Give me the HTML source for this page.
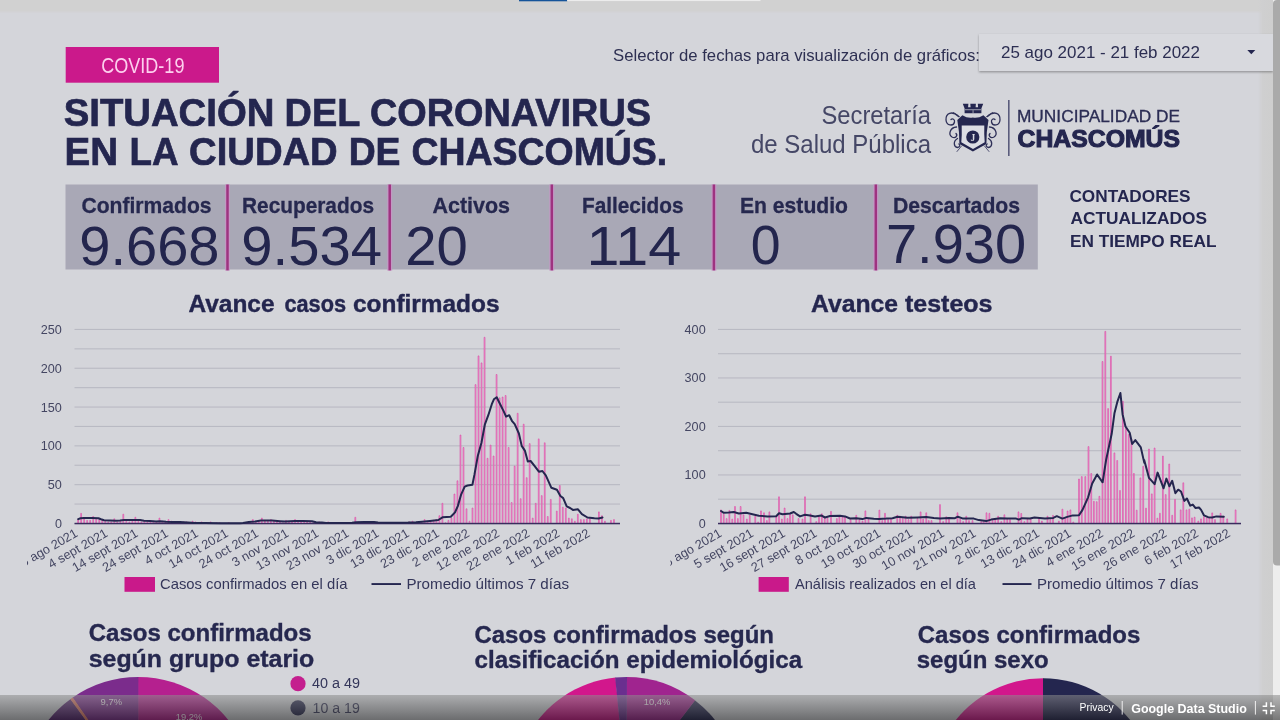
<!DOCTYPE html>
<html lang="es">
<head>
<meta charset="utf-8">
<title>Situación del Coronavirus en la ciudad de Chascomús</title>
<style>
html,body{margin:0;padding:0;width:1280px;height:720px;overflow:hidden;background:#d4d5da;}
body{font-family:"Liberation Sans",sans-serif;}
svg{will-change:transform;transform:translateZ(0);position:absolute;left:0;top:0;display:block;font-family:"Liberation Sans",sans-serif;}
</style>
</head>
<body>
<svg width="1280" height="720" viewBox="0 0 1280 720">
<defs>
<linearGradient id="gstrip" x1="0" x2="1" y1="0" y2="0"><stop offset="0" stop-color="#cfcfd0" stop-opacity="0"/><stop offset="0.3" stop-color="#cfcfd0" stop-opacity="1"/><stop offset="1" stop-color="#cecece"/></linearGradient>
<linearGradient id="gfoot" x1="0" x2="0" y1="0" y2="1"><stop offset="0" stop-color="#8e8e8e" stop-opacity="0.56"/><stop offset="1" stop-color="#1a1a1a" stop-opacity="0.56"/></linearGradient>
<filter id="dsh" x="-5%" y="-20%" width="110%" height="150%"><feDropShadow dx="0" dy="1.2" stdDeviation="1.2" flood-color="#000" flood-opacity="0.32"/></filter>
</defs>
<g id="chrome"><rect x="0" y="0" width="1280" height="11" fill="#d1d1d1"/><rect x="0" y="11" width="1280" height="1.5" fill="#d2d2d4"/>
<rect x="519" y="0" width="48.2" height="1.3" fill="#15549a"/>
<rect x="567.2" y="0" width="193.3" height="1.1" fill="#ececec"/>
<rect x="1258" y="0" width="15" height="720" fill="url(#gstrip)"/></g>
<g id="header"><rect x="65.7" y="47" width="153.3" height="35.7" fill="#cb198b"/>
<text x="101.18" y="73.0" font-size="21.8" fill="#fdd0ee" textLength="83.27" lengthAdjust="spacingAndGlyphs">COVID-19</text>
<text x="63.70" y="126.0" font-size="38.7" font-weight="bold" fill="#24264f" textLength="210.66" lengthAdjust="spacingAndGlyphs" stroke="#24264f" stroke-width="0.7">SITUACIÓN</text>
<text x="284.59" y="126.0" font-size="38.7" font-weight="bold" fill="#24264f" textLength="75.69" lengthAdjust="spacingAndGlyphs" stroke="#24264f" stroke-width="0.7">DEL</text>
<text x="369.99" y="126.0" font-size="38.7" font-weight="bold" fill="#24264f" textLength="281.01" lengthAdjust="spacingAndGlyphs" stroke="#24264f" stroke-width="0.7">CORONAVIRUS</text>
<text x="64.49" y="164.8" font-size="38.7" font-weight="bold" fill="#24264f" textLength="53.61" lengthAdjust="spacingAndGlyphs" stroke="#24264f" stroke-width="0.7">EN</text>
<text x="129.61" y="164.8" font-size="38.7" font-weight="bold" fill="#24264f" textLength="49.01" lengthAdjust="spacingAndGlyphs" stroke="#24264f" stroke-width="0.7">LA</text>
<text x="189.02" y="164.8" font-size="38.7" font-weight="bold" fill="#24264f" textLength="148.74" lengthAdjust="spacingAndGlyphs" stroke="#24264f" stroke-width="0.7">CIUDAD</text>
<text x="348.64" y="164.8" font-size="38.7" font-weight="bold" fill="#24264f" textLength="51.87" lengthAdjust="spacingAndGlyphs" stroke="#24264f" stroke-width="0.7">DE</text>
<text x="411.44" y="164.8" font-size="38.7" font-weight="bold" fill="#24264f" textLength="255.79" lengthAdjust="spacingAndGlyphs" stroke="#24264f" stroke-width="0.7">CHASCOMÚS.</text>
<text x="613.00" y="60.9" font-size="16.6" fill="#2e3052" textLength="367.01" lengthAdjust="spacingAndGlyphs">Selector de fechas para visualización de gráficos:</text>
<rect x="979" y="34" width="294" height="37" fill="#d8d9de" filter="url(#dsh)"/>
<text x="1001.00" y="58.0" font-size="16.6" fill="#2c2e52" textLength="198.98" lengthAdjust="spacingAndGlyphs">25 ago 2021 - 21 feb 2022</text>
<path d="M1247.3 50 L1255.3 50 L1251.3 54.2 Z" fill="#24264f"/></g>
<g id="logo"><text x="821.51" y="123.5" font-size="26.5" fill="#454766" textLength="109.49" lengthAdjust="spacingAndGlyphs">Secretaría</text>
<text x="750.99" y="153.0" font-size="26.5" fill="#454766" textLength="180.01" lengthAdjust="spacingAndGlyphs">de Salud Pública</text>
<rect x="1008" y="100" width="1.6" height="56" fill="#5a5c7c"/>
<text x="1016.98" y="121.6" font-size="16.2" fill="#2b2d54" textLength="163.03" lengthAdjust="spacingAndGlyphs" stroke="#2b2d54" stroke-width="0.3">MUNICIPALIDAD DE</text>
<text x="1017.50" y="146.5" font-size="24.6" font-weight="bold" fill="#24264f" textLength="162.55" lengthAdjust="spacingAndGlyphs" stroke="#24264f" stroke-width="1.1">CHASCOMÚS</text>
<g id="crest">
<g fill="none" stroke="#2e3058" stroke-width="1.3" stroke-linecap="round">
<path d="M958.5 116.5 C952 110 945.5 113.5 946 120 C946.5 126 953.5 126.5 954.5 122 C955 119.5 952.5 118 951 119.5"/>
<path d="M956.5 127 C950 127.5 948 134.5 952 137 C955.5 139 958 135.5 956 133.5"/>
<path d="M957.5 138.5 C953 141 953.5 147 957.5 147.5 C960 147.5 960.5 144.5 958.8 144"/>
<path d="M987.5 116.5 C994 110 1000.5 113.5 1000 120 C999.5 126 992.5 126.5 991.5 122 C991 119.5 993.5 118 995 119.5"/>
<path d="M989.5 127 C996 127.5 998 134.5 994 137 C990.5 139 988 135.5 990 133.5"/>
<path d="M988.5 138.5 C993 141 992.5 147 988.5 147.5 C986 147.5 985.5 144.5 987.2 144"/>
<path d="M953.5 112.5 L960 117 M992.5 112.5 L986 117 M957 151.5 L961.5 146 M989 151.5 L984.5 146" stroke-width="0.8"/>
</g>
<path d="M962.8 103.8 L968.4 103.8 L968.1 107.2 L970.6 107.2 L970.3 103.8 L975.9 103.8 L975.6 107.2 L978.1 107.2 L977.8 103.8 L983.2 103.8 L981.4 108.6 L981.4 113.3 L964.6 113.3 L964.6 108.6 Z" fill="#24264f"/>
<rect x="965" y="109.3" width="16" height="0.9" fill="#d4d5da" opacity="0.75"/>
<rect x="972.6" y="110.2" width="0.9" height="3.1" fill="#d4d5da" opacity="0.75"/>
<path d="M962.4 115.2 Q967.5 118.6 972.9 117.6 Q978.3 118.6 983.4 115.2 L988.5 120 Q986.2 132 986.4 144 L972.9 151.4 L959.4 144 Q959.6 132 957.3 120 Z" fill="#24264f"/>
<path d="M961.7 125.6 L984.3 125.6 Q984 135 984.7 142.3 L973 148.9 L961.3 142.3 Q962 135 961.7 126.8 Z" fill="#dbdce3"/>
<circle cx="972.8" cy="137" r="6.6" fill="#24264f"/>
<text x="972.9" y="140.6" font-size="9.5" font-weight="bold" text-anchor="middle" fill="#dbdce3" font-family="Liberation Serif, serif">J</text>
</g>
</g>
<g id="stats"><rect x="65.5" y="184.5" width="972.3" height="85" fill="#a9a8b6"/>
<rect x="225.0" y="184.5" width="5" height="86.1" fill="#c795c5" opacity="0.85"/><rect x="226.25" y="184.5" width="2.5" height="85.9" fill="#9e3380"/>
<rect x="387.2" y="184.5" width="5" height="86.1" fill="#c795c5" opacity="0.85"/><rect x="388.45" y="184.5" width="2.5" height="85.9" fill="#9e3380"/>
<rect x="549.3" y="184.5" width="5" height="86.1" fill="#c795c5" opacity="0.85"/><rect x="550.55" y="184.5" width="2.5" height="85.9" fill="#9e3380"/>
<rect x="711.4" y="184.5" width="5" height="86.1" fill="#c795c5" opacity="0.85"/><rect x="712.65" y="184.5" width="2.5" height="85.9" fill="#9e3380"/>
<rect x="873.3" y="184.5" width="5" height="86.1" fill="#c795c5" opacity="0.85"/><rect x="874.55" y="184.5" width="2.5" height="85.9" fill="#9e3380"/>
<text x="81.42" y="212.8" font-size="22.6" font-weight="bold" fill="#26284f" textLength="130.10" lengthAdjust="spacingAndGlyphs" stroke="#26284f" stroke-width="0.3">Confirmados</text>
<text x="242.03" y="212.8" font-size="22.6" font-weight="bold" fill="#26284f" textLength="131.99" lengthAdjust="spacingAndGlyphs" stroke="#26284f" stroke-width="0.3">Recuperados</text>
<text x="432.43" y="212.8" font-size="22.6" font-weight="bold" fill="#26284f" textLength="77.59" lengthAdjust="spacingAndGlyphs" stroke="#26284f" stroke-width="0.3">Activos</text>
<text x="581.95" y="212.8" font-size="22.6" font-weight="bold" fill="#26284f" textLength="101.62" lengthAdjust="spacingAndGlyphs" stroke="#26284f" stroke-width="0.3">Fallecidos</text>
<text x="740.01" y="212.8" font-size="22.6" font-weight="bold" fill="#26284f" textLength="108.00" lengthAdjust="spacingAndGlyphs" stroke="#26284f" stroke-width="0.3">En estudio</text>
<text x="892.93" y="212.8" font-size="22.6" font-weight="bold" fill="#26284f" textLength="127.13" lengthAdjust="spacingAndGlyphs" stroke="#26284f" stroke-width="0.3">Descartados</text>
<text x="79.30" y="265.2" font-size="56" fill="#23254d" textLength="140.21" lengthAdjust="spacingAndGlyphs">9.668</text>
<text x="241.35" y="265.0" font-size="56" fill="#23254d" textLength="140.66" lengthAdjust="spacingAndGlyphs">9.534</text>
<text x="405.20" y="265.0" font-size="56" fill="#23254d" textLength="62.61" lengthAdjust="spacingAndGlyphs">20</text>
<text x="586.62" y="265.0" font-size="56" fill="#23254d" textLength="94.57" lengthAdjust="spacingAndGlyphs">114</text>
<text x="750.69" y="263.9" font-size="56" fill="#23254d" textLength="29.86" lengthAdjust="spacingAndGlyphs">0</text>
<text x="885.91" y="262.5" font-size="56" fill="#23254d" textLength="140.20" lengthAdjust="spacingAndGlyphs">7.930</text>
<text x="1069.45" y="201.6" font-size="16.6" font-weight="bold" fill="#24264f" textLength="121.13" lengthAdjust="spacingAndGlyphs">CONTADORES</text>
<text x="1070.48" y="224.4" font-size="16.6" font-weight="bold" fill="#24264f" textLength="136.46" lengthAdjust="spacingAndGlyphs">ACTUALIZADOS</text>
<text x="1069.99" y="247.4" font-size="16.6" font-weight="bold" fill="#24264f" textLength="146.45" lengthAdjust="spacingAndGlyphs">EN TIEMPO REAL</text></g>
<defs><clipPath id="clipL"><rect x="27" y="524" width="640" height="60"/></clipPath><clipPath id="clipR"><rect x="670.4" y="524" width="600" height="60"/></clipPath></defs>
<g id="chartL"><rect x="74.5" y="522.90" width="545.5" height="1.1" fill="#b9bac3"/>
<rect x="74.5" y="503.50" width="545.5" height="1.1" fill="#b9bac3"/>
<rect x="74.5" y="484.10" width="545.5" height="1.1" fill="#b9bac3"/>
<rect x="74.5" y="464.70" width="545.5" height="1.1" fill="#b9bac3"/>
<rect x="74.5" y="445.30" width="545.5" height="1.1" fill="#b9bac3"/>
<rect x="74.5" y="425.90" width="545.5" height="1.1" fill="#b9bac3"/>
<rect x="74.5" y="406.50" width="545.5" height="1.1" fill="#b9bac3"/>
<rect x="74.5" y="387.10" width="545.5" height="1.1" fill="#b9bac3"/>
<rect x="74.5" y="367.70" width="545.5" height="1.1" fill="#b9bac3"/>
<rect x="74.5" y="348.30" width="545.5" height="1.1" fill="#b9bac3"/>
<rect x="74.5" y="328.90" width="545.5" height="1.1" fill="#b9bac3"/>
<path d="M77.68 523.5V519.6H78.52V523.5M80.69 523.5V513.4H81.53V523.5M83.71 523.5V518.8H84.55V523.5M86.72 523.5V520.4H87.56V523.5M89.73 523.5V520.4H90.57V523.5M92.74 523.5V516.5H93.58V523.5M95.76 523.5V518.8H96.60V523.5M98.77 523.5V519.6H99.61V523.5M101.78 523.5V520.4H102.62V523.5M104.80 523.5V521.2H105.64V523.5M107.81 523.5V521.9H108.65V523.5M110.82 523.5V521.9H111.66V523.5M113.84 523.5V518.8H114.68V523.5M116.85 523.5V521.9H117.69V523.5M119.86 523.5V521.2H120.70V523.5M122.87 523.5V514.2H123.71V523.5M125.89 523.5V521.2H126.73V523.5M128.90 523.5V521.9H129.74V523.5M131.91 523.5V521.2H132.75V523.5M134.93 523.5V517.3H135.77V523.5M137.94 523.5V521.2H138.78V523.5M140.95 523.5V521.9H141.79V523.5M143.97 523.5V521.2H144.81V523.5M146.98 523.5V521.9H147.82V523.5M149.99 523.5V521.9H150.83V523.5M153.01 523.5V521.2H153.84V523.5M156.02 523.5V521.9H156.86V523.5M159.03 523.5V518.1H159.87V523.5M162.04 523.5V521.2H162.88V523.5M165.06 523.5V521.9H165.90V523.5M168.07 523.5V519.6H168.91V523.5M171.08 523.5V521.2H171.92V523.5M174.10 523.5V521.9H174.94V523.5M177.11 523.5V522.7H177.95V523.5M180.12 523.5V521.9H180.96V523.5M183.14 523.5V521.9H183.97V523.5M186.15 523.5V521.9H186.99V523.5M189.16 523.5V522.7H190.00V523.5M192.17 523.5V521.2H193.01V523.5M195.19 523.5V521.9H196.03V523.5M198.20 523.5V522.7H199.04V523.5M201.21 523.5V521.9H202.05V523.5M204.23 523.5V522.7H205.07V523.5M207.24 523.5V522.7H208.08V523.5M210.25 523.5V521.9H211.09V523.5M216.28 523.5V522.7H217.12V523.5M219.29 523.5V522.7H220.13V523.5M228.33 523.5V522.7H229.17V523.5M243.40 523.5V522.7H244.23V523.5M246.41 523.5V522.7H247.25V523.5M249.42 523.5V521.9H250.26V523.5M252.43 523.5V519.6H253.27V523.5M255.45 523.5V521.9H256.29V523.5M258.46 523.5V521.2H259.30V523.5M261.47 523.5V518.1H262.31V523.5M264.49 523.5V520.4H265.33V523.5M267.50 523.5V520.4H268.34V523.5M270.51 523.5V519.6H271.35V523.5M273.52 523.5V521.2H274.37V523.5M276.54 523.5V521.9H277.38V523.5M279.55 523.5V521.9H280.39V523.5M282.56 523.5V522.7H283.40V523.5M285.58 523.5V520.4H286.42V523.5M288.59 523.5V521.9H289.43V523.5M291.60 523.5V521.9H292.44V523.5M294.62 523.5V519.6H295.46V523.5M297.63 523.5V521.2H298.47V523.5M300.64 523.5V521.9H301.48V523.5M303.65 523.5V521.2H304.50V523.5M306.67 523.5V521.9H307.51V523.5M309.68 523.5V521.2H310.52V523.5M312.69 523.5V522.7H313.53V523.5M315.71 523.5V522.7H316.55V523.5M318.72 523.5V521.9H319.56V523.5M321.73 523.5V522.7H322.57V523.5M324.75 523.5V522.7H325.59V523.5M327.76 523.5V521.9H328.60V523.5M330.77 523.5V522.7H331.61V523.5M336.80 523.5V522.7H337.64V523.5M339.81 523.5V522.7H340.65V523.5M345.84 523.5V522.7H346.68V523.5M351.86 523.5V522.7H352.70V523.5M354.88 523.5V517.3H355.72V523.5M357.89 523.5V521.9H358.73V523.5M360.90 523.5V521.9H361.74V523.5M363.92 523.5V522.7H364.76V523.5M366.93 523.5V521.9H367.77V523.5M369.94 523.5V521.9H370.78V523.5M372.95 523.5V522.7H373.79V523.5M378.98 523.5V522.7H379.82V523.5M381.99 523.5V522.7H382.83V523.5M385.01 523.5V522.7H385.85V523.5M391.03 523.5V522.7H391.87V523.5M394.05 523.5V522.7H394.89V523.5M397.06 523.5V522.7H397.90V523.5M403.08 523.5V522.7H403.92V523.5M406.10 523.5V522.7H406.94V523.5M409.11 523.5V521.9H409.95V523.5M412.12 523.5V521.2H412.96V523.5M415.14 523.5V522.7H415.98V523.5M418.15 523.5V521.9H418.99V523.5M421.16 523.5V521.9H422.00V523.5M424.18 523.5V519.6H425.02V523.5M427.19 523.5V521.2H428.03V523.5M430.20 523.5V521.2H431.04V523.5M433.21 523.5V520.4H434.05V523.5M435.97 523.5V519.6H436.81V523.5M438.98 523.5V515.7H439.82V523.5M441.99 523.5V503.3H442.83V523.5M445.00 523.5V522.7H445.84V523.5M448.01 523.5V520.4H448.85V523.5M451.02 523.5V518.1H451.86V523.5M454.03 523.5V494.0H454.87V523.5M457.04 523.5V480.8H457.88V523.5M460.05 523.5V435.0H460.89V523.5M463.06 523.5V447.5H463.90V523.5M466.07 523.5V508.8H466.91V523.5M469.08 523.5V521.2H469.92V523.5M472.09 523.5V508.0H472.93V523.5M475.10 523.5V384.6H475.94V523.5M478.11 523.5V355.9H478.95V523.5M481.12 523.5V362.9H481.96V523.5M484.13 523.5V337.3H484.97V523.5M487.14 523.5V458.3H487.98V523.5M490.15 523.5V445.1H490.99V523.5M493.16 523.5V456.0H494.00V523.5M496.17 523.5V374.5H497.01V523.5M499.18 523.5V397.8H500.02V523.5M502.19 523.5V397.0H503.03V523.5M505.20 523.5V395.5H506.04V523.5M508.21 523.5V447.5H509.05V523.5M511.22 523.5V502.5H512.06V523.5M514.23 523.5V466.1H515.07V523.5M517.24 523.5V413.3H518.08V523.5M520.25 523.5V498.7H521.09V523.5M523.26 523.5V424.2H524.10V523.5M526.27 523.5V477.7H527.11V523.5M529.28 523.5V443.6H530.12V523.5M532.29 523.5V518.1H533.13V523.5M535.30 523.5V503.3H536.14V523.5M538.31 523.5V438.9H539.15V523.5M541.32 523.5V495.6H542.16V523.5M544.33 523.5V442.8H545.17V523.5M547.34 523.5V516.5H548.18V523.5M550.35 523.5V499.4H551.19V523.5M556.37 523.5V511.1H557.21V523.5M559.38 523.5V485.5H560.22V523.5M562.39 523.5V507.2H563.23V523.5M565.40 523.5V508.0H566.24V523.5M568.41 523.5V518.1H569.25V523.5M571.42 523.5V518.8H572.26V523.5M574.43 523.5V521.2H575.27V523.5M577.44 523.5V514.2H578.28V523.5M580.45 523.5V519.6H581.29V523.5M583.46 523.5V519.6H584.30V523.5M586.47 523.5V518.8H587.31V523.5M589.48 523.5V518.8H590.32V523.5M598.51 523.5V511.9H599.35V523.5M601.52 523.5V515.7H602.36V523.5M604.53 523.5V521.2H605.37V523.5M610.55 523.5V520.4H611.39V523.5M613.56 523.5V519.6H614.40V523.5" fill="#f7b2de" stroke="#d8409f" stroke-width="0.6"/>
<rect x="74.5" y="522.80" width="545.5" height="1.5" fill="#3a2c5e"/>
<polyline points="78.2,519.1 80.5,518.3 84.0,518.1 92.0,518.1 98.5,518.2 101.0,519.2 104.0,520.2 110.0,520.4 116.0,520.7 120.0,520.5 124.0,520.0 131.0,519.9 140.0,520.1 144.0,520.8 150.0,521.0 156.0,521.4 160.0,521.2 166.0,521.8 172.0,522.1 180.0,522.0 188.0,522.4 195.0,522.9 205.0,523.1 220.0,523.2 240.0,523.2 243.0,523.1 248.8,521.9 255.0,521.5 261.0,520.6 272.0,520.5 280.0,521.2 285.0,521.6 290.0,521.3 295.0,520.9 303.0,521.1 312.0,521.2 316.0,522.3 322.0,522.6 326.0,522.9 335.0,523.0 345.0,523.0 352.0,522.7 356.0,522.2 364.0,522.0 374.0,522.1 378.0,522.6 388.0,522.7 398.0,522.7 408.0,522.6 416.0,522.3 422.0,521.8 430.0,521.0 438.3,520.0 442.5,517.3 450.8,516.8 455.0,512.4 457.8,506.1 461.2,494.3 464.7,486.7 467.5,485.5 472.4,484.7 474.4,474.9 477.9,455.4 481.4,443.0 484.9,424.3 488.3,415.2 491.8,404.2 493.9,399.3 496.7,397.2 499.4,402.8 503.6,411.1 506.1,416.6 509.2,415.2 511.9,420.8 514.7,424.2 518.9,433.5 521.7,445.9 525.0,450.9 527.8,461.4 530.6,461.0 534.7,466.1 538.9,471.7 542.4,471.0 545.8,475.4 551.4,487.8 556.9,489.7 560.4,496.0 563.2,498.1 566.7,506.4 570.1,508.0 572.9,509.9 577.8,509.2 581.9,514.2 587.5,517.5 594.4,518.2 598.6,518.5 602.5,517.5" fill="none" stroke="#24264f" stroke-width="2" stroke-linejoin="round" stroke-linecap="round"/>
<text x="61.9" y="333.9" font-size="12.4" text-anchor="end" fill="#444662" textLength="21.1" lengthAdjust="spacingAndGlyphs">250</text>
<text x="61.9" y="372.7" font-size="12.4" text-anchor="end" fill="#444662" textLength="21.1" lengthAdjust="spacingAndGlyphs">200</text>
<text x="61.9" y="411.5" font-size="12.4" text-anchor="end" fill="#444662" textLength="21.1" lengthAdjust="spacingAndGlyphs">150</text>
<text x="61.9" y="450.3" font-size="12.4" text-anchor="end" fill="#444662" textLength="21.1" lengthAdjust="spacingAndGlyphs">100</text>
<text x="61.9" y="489.1" font-size="12.4" text-anchor="end" fill="#444662" textLength="14.1" lengthAdjust="spacingAndGlyphs">50</text>
<text x="61.9" y="527.9" font-size="12.4" text-anchor="end" fill="#444662" textLength="7.0" lengthAdjust="spacingAndGlyphs">0</text>
<g clip-path="url(#clipL)"><text transform="translate(78.6 535.6) rotate(-30)" text-anchor="end" font-size="12.7" fill="#444662">25 ago 2021</text><text transform="translate(108.7 535.6) rotate(-30)" text-anchor="end" font-size="12.7" fill="#444662">4 sept 2021</text><text transform="translate(138.9 535.6) rotate(-30)" text-anchor="end" font-size="12.7" fill="#444662">14 sept 2021</text><text transform="translate(169.0 535.6) rotate(-30)" text-anchor="end" font-size="12.7" fill="#444662">24 sept 2021</text><text transform="translate(199.1 535.6) rotate(-30)" text-anchor="end" font-size="12.7" fill="#444662">4 oct 2021</text><text transform="translate(229.2 535.6) rotate(-30)" text-anchor="end" font-size="12.7" fill="#444662">14 oct 2021</text><text transform="translate(259.4 535.6) rotate(-30)" text-anchor="end" font-size="12.7" fill="#444662">24 oct 2021</text><text transform="translate(289.5 535.6) rotate(-30)" text-anchor="end" font-size="12.7" fill="#444662">3 nov 2021</text><text transform="translate(319.6 535.6) rotate(-30)" text-anchor="end" font-size="12.7" fill="#444662">13 nov 2021</text><text transform="translate(349.8 535.6) rotate(-30)" text-anchor="end" font-size="12.7" fill="#444662">23 nov 2021</text><text transform="translate(379.9 535.6) rotate(-30)" text-anchor="end" font-size="12.7" fill="#444662">3 dic 2021</text><text transform="translate(410.0 535.6) rotate(-30)" text-anchor="end" font-size="12.7" fill="#444662">13 dic 2021</text><text transform="translate(440.2 535.6) rotate(-30)" text-anchor="end" font-size="12.7" fill="#444662">23 dic 2021</text><text transform="translate(470.3 535.6) rotate(-30)" text-anchor="end" font-size="12.7" fill="#444662">2 ene 2022</text><text transform="translate(500.4 535.6) rotate(-30)" text-anchor="end" font-size="12.7" fill="#444662">12 ene 2022</text><text transform="translate(530.5 535.6) rotate(-30)" text-anchor="end" font-size="12.7" fill="#444662">22 ene 2022</text><text transform="translate(560.7 535.6) rotate(-30)" text-anchor="end" font-size="12.7" fill="#444662">1 feb 2022</text><text transform="translate(590.8 535.6) rotate(-30)" text-anchor="end" font-size="12.7" fill="#444662">11 feb 2022</text></g>
<text x="188.49" y="312.0" font-size="24.8" font-weight="bold" fill="#24264f" textLength="86.02" lengthAdjust="spacingAndGlyphs" stroke="#24264f" stroke-width="0.4">Avance</text><text x="284.47" y="312.0" font-size="24.8" font-weight="bold" fill="#24264f" textLength="61.57" lengthAdjust="spacingAndGlyphs" stroke="#24264f" stroke-width="0.4">casos</text><text x="352.99" y="312.0" font-size="24.8" font-weight="bold" fill="#24264f" textLength="146.53" lengthAdjust="spacingAndGlyphs" stroke="#24264f" stroke-width="0.4">confirmados</text>
<rect x="124.5" y="577" width="30.5" height="14.8" fill="#c9198a"/><text x="160.00" y="589.4" font-size="14.8" fill="#34365a" textLength="187.51" lengthAdjust="spacingAndGlyphs">Casos confirmados en el día</text><rect x="371.5" y="583.1" width="29.5" height="1.9" fill="#24264f"/><text x="406.46" y="589.4" font-size="14.8" fill="#34365a" textLength="162.54" lengthAdjust="spacingAndGlyphs">Promedio últimos 7 días</text></g>
<g id="chartR"><rect x="718" y="522.90" width="523" height="1.1" fill="#b9bac3"/>
<rect x="718" y="498.65" width="523" height="1.1" fill="#b9bac3"/>
<rect x="718" y="474.40" width="523" height="1.1" fill="#b9bac3"/>
<rect x="718" y="450.15" width="523" height="1.1" fill="#b9bac3"/>
<rect x="718" y="425.90" width="523" height="1.1" fill="#b9bac3"/>
<rect x="718" y="401.65" width="523" height="1.1" fill="#b9bac3"/>
<rect x="718" y="377.40" width="523" height="1.1" fill="#b9bac3"/>
<rect x="718" y="353.15" width="523" height="1.1" fill="#b9bac3"/>
<rect x="718" y="328.90" width="523" height="1.1" fill="#b9bac3"/>
<path d="M720.58 523.5V509.9H721.42V523.5M723.33 523.5V514.3H724.17V523.5M726.21 523.5V518.6H727.04V523.5M728.96 523.5V510.4H729.79V523.5M731.83 523.5V519.1H732.67V523.5M734.58 523.5V506.5H735.42V523.5M737.46 523.5V518.6H738.29V523.5M740.21 523.5V506.5H741.04V523.5M743.08 523.5V514.8H743.92V523.5M746.46 523.5V519.1H747.29V523.5M749.33 523.5V515.3H750.17V523.5M754.83 523.5V516.2H755.67V523.5M757.71 523.5V522.0H758.54V523.5M760.58 523.5V510.9H761.42V523.5M763.58 523.5V512.8H764.42V523.5M766.46 523.5V520.6H767.29V523.5M768.96 523.5V511.9H769.79V523.5M775.83 523.5V516.7H776.67V523.5M778.58 523.5V496.8H779.42V523.5M781.46 523.5V519.1H782.29V523.5M784.21 523.5V508.0H785.04V523.5M787.08 523.5V518.6H787.92V523.5M789.58 523.5V514.3H790.42V523.5M792.33 523.5V514.8H793.17V523.5M798.08 523.5V518.6H798.92V523.5M802.08 523.5V519.1H802.92V523.5M804.58 523.5V496.8H805.42V523.5M810.21 523.5V513.8H811.04V523.5M815.83 523.5V521.6H816.67V523.5M818.58 523.5V516.7H819.42V523.5M821.46 523.5V513.8H822.29V523.5M824.33 523.5V518.2H825.17V523.5M827.08 523.5V518.2H827.92V523.5M830.58 523.5V511.4H831.42V523.5M836.46 523.5V518.6H837.29V523.5M838.96 523.5V516.7H839.79V523.5M842.08 523.5V516.7H842.92V523.5M844.58 523.5V517.2H845.42V523.5M850.21 523.5V519.6H851.04V523.5M855.83 523.5V515.3H856.67V523.5M858.96 523.5V519.6H859.79V523.5M862.08 523.5V521.1H862.92V523.5M864.96 523.5V510.9H865.79V523.5M868.08 523.5V519.1H868.92V523.5M878.96 523.5V510.1H879.79V523.5M881.83 523.5V520.6H882.67V523.5M884.58 523.5V513.3H885.42V523.5M887.71 523.5V519.6H888.54V523.5M890.58 523.5V519.1H891.42V523.5M896.83 523.5V515.3H897.67V523.5M899.58 523.5V516.2H900.42V523.5M902.33 523.5V518.6H903.17V523.5M905.21 523.5V516.2H906.04V523.5M908.08 523.5V519.6H908.92V523.5M910.83 523.5V516.2H911.67V523.5M917.08 523.5V518.6H917.92V523.5M920.21 523.5V511.9H921.04V523.5M922.71 523.5V519.1H923.54V523.5M925.83 523.5V512.8H926.67V523.5M928.33 523.5V520.6H929.17V523.5M931.08 523.5V520.6H931.92V523.5M939.58 523.5V504.6H940.42V523.5M942.71 523.5V521.6H943.54V523.5M945.83 523.5V516.7H946.67V523.5M948.58 523.5V517.7H949.42V523.5M957.08 523.5V512.8H957.92V523.5M959.83 523.5V519.1H960.67V523.5M962.71 523.5V521.6H963.54V523.5M965.83 523.5V516.2H966.67V523.5M968.58 523.5V520.6H969.42V523.5M972.08 523.5V520.6H972.92V523.5M980.83 523.5V521.6H981.67V523.5M983.33 523.5V521.6H984.17V523.5M986.08 523.5V512.8H986.92V523.5M988.96 523.5V513.3H989.79V523.5M992.08 523.5V520.6H992.92V523.5M994.83 523.5V519.1H995.67V523.5M997.71 523.5V516.2H998.54V523.5M1000.83 523.5V521.6H1001.67V523.5M1003.96 523.5V514.8H1004.79V523.5M1006.83 523.5V519.1H1007.67V523.5M1009.58 523.5V519.6H1010.42V523.5M1018.08 523.5V511.9H1018.92V523.5M1020.83 523.5V513.5H1021.67V523.5M1023.96 523.5V521.6H1024.80V523.5M1027.08 523.5V519.1H1027.92V523.5M1030.20 523.5V518.6H1031.05V523.5M1038.58 523.5V517.7H1039.42V523.5M1041.48 523.5V521.1H1042.32V523.5M1047.08 523.5V516.2H1047.92V523.5M1049.88 523.5V519.6H1050.72V523.5M1052.58 523.5V515.4H1053.42V523.5M1058.48 523.5V521.1H1059.32V523.5M1061.98 523.5V509.2H1062.82V523.5M1064.78 523.5V518.2H1065.62V523.5M1067.18 523.5V511.0H1068.02V523.5M1069.98 523.5V509.9H1070.82V523.5M1072.88 523.5V522.0H1073.72V523.5M1078.58 523.5V479.0H1079.42V523.5M1081.38 523.5V476.6H1082.22V523.5M1084.88 523.5V476.6H1085.72V523.5M1088.08 523.5V446.6H1088.92V523.5M1090.83 523.5V473.5H1091.67V523.5M1093.48 523.5V501.3H1094.32V523.5M1096.28 523.5V501.7H1097.12V523.5M1098.98 523.5V496.3H1099.82V523.5M1102.08 523.5V361.5H1102.92V523.5M1104.88 523.5V331.4H1105.72V523.5M1107.68 523.5V408.6H1108.52V523.5M1110.48 523.5V356.2H1111.32V523.5M1113.98 523.5V452.9H1114.82V523.5M1116.78 523.5V460.5H1117.62V523.5M1119.58 523.5V490.5H1120.42V523.5M1122.48 523.5V401.3H1123.32V523.5M1125.48 523.5V428.4H1126.32V523.5M1128.33 523.5V434.3H1129.17V523.5M1130.98 523.5V439.1H1131.82V523.5M1133.48 523.5V473.5H1134.32V523.5M1136.28 523.5V510.2H1137.12V523.5M1139.98 523.5V477.9H1140.82V523.5M1142.78 523.5V466.3H1143.62V523.5M1145.58 523.5V508.2H1146.42V523.5M1148.58 523.5V449.0H1149.42V523.5M1151.38 523.5V493.9H1152.22V523.5M1154.18 523.5V448.0H1155.02V523.5M1156.98 523.5V518.2H1157.82V523.5M1159.48 523.5V513.3H1160.32V523.5M1162.48 523.5V456.1H1163.32V523.5M1165.28 523.5V494.6H1166.12V523.5M1168.78 523.5V464.0H1169.62V523.5M1171.78 523.5V515.3H1172.62V523.5M1174.58 523.5V499.4H1175.42V523.5M1180.28 523.5V509.9H1181.12V523.5M1182.88 523.5V482.8H1183.72V523.5M1186.08 523.5V509.9H1186.92V523.5M1188.88 523.5V509.2H1189.72V523.5M1191.58 523.5V517.9H1192.42V523.5M1194.18 523.5V517.2H1195.02V523.5M1197.88 523.5V521.1H1198.72V523.5M1200.58 523.5V518.9H1201.42V523.5M1203.48 523.5V516.8H1204.32V523.5M1206.28 523.5V517.9H1207.12V523.5M1208.98 523.5V517.9H1209.82V523.5M1211.78 523.5V512.9H1212.62V523.5M1214.58 523.5V519.6H1215.42V523.5M1220.18 523.5V513.3H1221.02V523.5M1222.88 523.5V516.2H1223.72V523.5M1226.78 523.5V518.9H1227.62V523.5M1235.18 523.5V509.9H1236.02V523.5" fill="#f7b2de" stroke="#d8409f" stroke-width="0.6"/>
<rect x="718" y="522.80" width="523" height="1.5" fill="#3a2c5e"/>
<polyline points="721.0,511.0 723.8,512.8 728.8,512.6 733.8,512.0 738.8,513.5 746.2,512.8 752.5,514.3 758.8,515.7 767.5,516.4 776.2,516.2 779.0,513.3 782.5,514.3 790.0,513.5 793.8,512.0 796.2,513.8 800.0,516.4 805.0,514.8 810.0,515.4 815.0,516.4 821.2,515.4 825.0,517.5 830.0,516.0 840.0,515.7 845.0,516.4 850.0,518.5 856.2,518.2 862.5,519.1 866.2,517.9 873.8,518.7 878.8,518.9 886.2,518.6 892.5,518.2 897.5,516.7 907.5,517.7 917.5,517.4 926.2,517.0 933.8,517.9 940.0,518.4 948.8,517.9 955.0,518.2 957.8,516.7 962.5,518.4 973.8,518.6 978.8,520.1 986.2,521.1 991.2,519.6 1000.0,518.2 1007.5,518.4 1016.2,518.6 1018.8,519.6 1021.9,518.2 1030.0,518.4 1034.4,517.4 1045.0,518.6 1053.3,517.9 1056.8,516.2 1062.4,518.6 1067.2,516.9 1072.8,515.4 1079.0,515.3 1082.5,509.9 1088.1,497.3 1092.2,483.5 1097.1,474.5 1102.6,482.3 1106.1,460.0 1111.7,433.8 1114.5,412.9 1117.5,401.3 1120.4,393.0 1122.6,414.4 1125.5,426.5 1129.7,432.8 1132.2,444.0 1135.3,440.1 1140.8,447.4 1144.3,462.9 1144.2,460.0 1149.0,477.9 1154.6,484.2 1157.6,472.6 1163.6,488.3 1166.4,478.6 1169.4,486.3 1172.2,480.8 1175.4,493.2 1178.2,489.7 1181.0,491.5 1184.4,500.9 1186.9,498.5 1190.3,505.7 1192.8,504.6 1195.6,508.1 1199.0,507.5 1201.1,509.9 1203.9,515.3 1208.1,517.2 1212.2,517.5 1216.4,516.4 1223.8,516.8" fill="none" stroke="#24264f" stroke-width="2" stroke-linejoin="round" stroke-linecap="round"/>
<text x="705.7" y="333.9" font-size="12.4" text-anchor="end" fill="#444662" textLength="21.1" lengthAdjust="spacingAndGlyphs">400</text>
<text x="705.7" y="382.4" font-size="12.4" text-anchor="end" fill="#444662" textLength="21.1" lengthAdjust="spacingAndGlyphs">300</text>
<text x="705.7" y="430.9" font-size="12.4" text-anchor="end" fill="#444662" textLength="21.1" lengthAdjust="spacingAndGlyphs">200</text>
<text x="705.7" y="479.4" font-size="12.4" text-anchor="end" fill="#444662" textLength="21.1" lengthAdjust="spacingAndGlyphs">100</text>
<text x="705.7" y="527.9" font-size="12.4" text-anchor="end" fill="#444662" textLength="7.0" lengthAdjust="spacingAndGlyphs">0</text>
<g clip-path="url(#clipR)"><text transform="translate(722.6 535.6) rotate(-30)" text-anchor="end" font-size="12.7" fill="#444662">25 ago 2021</text><text transform="translate(754.4 535.6) rotate(-30)" text-anchor="end" font-size="12.7" fill="#444662">5 sept 2021</text><text transform="translate(786.2 535.6) rotate(-30)" text-anchor="end" font-size="12.7" fill="#444662">16 sept 2021</text><text transform="translate(817.9 535.6) rotate(-30)" text-anchor="end" font-size="12.7" fill="#444662">27 sept 2021</text><text transform="translate(849.7 535.6) rotate(-30)" text-anchor="end" font-size="12.7" fill="#444662">8 oct 2021</text><text transform="translate(881.5 535.6) rotate(-30)" text-anchor="end" font-size="12.7" fill="#444662">19 oct 2021</text><text transform="translate(913.3 535.6) rotate(-30)" text-anchor="end" font-size="12.7" fill="#444662">30 oct 2021</text><text transform="translate(945.1 535.6) rotate(-30)" text-anchor="end" font-size="12.7" fill="#444662">10 nov 2021</text><text transform="translate(976.8 535.6) rotate(-30)" text-anchor="end" font-size="12.7" fill="#444662">21 nov 2021</text><text transform="translate(1008.6 535.6) rotate(-30)" text-anchor="end" font-size="12.7" fill="#444662">2 dic 2021</text><text transform="translate(1040.4 535.6) rotate(-30)" text-anchor="end" font-size="12.7" fill="#444662">13 dic 2021</text><text transform="translate(1072.2 535.6) rotate(-30)" text-anchor="end" font-size="12.7" fill="#444662">24 dic 2021</text><text transform="translate(1104.0 535.6) rotate(-30)" text-anchor="end" font-size="12.7" fill="#444662">4 ene 2022</text><text transform="translate(1135.7 535.6) rotate(-30)" text-anchor="end" font-size="12.7" fill="#444662">15 ene 2022</text><text transform="translate(1167.5 535.6) rotate(-30)" text-anchor="end" font-size="12.7" fill="#444662">26 ene 2022</text><text transform="translate(1199.3 535.6) rotate(-30)" text-anchor="end" font-size="12.7" fill="#444662">6 feb 2022</text><text transform="translate(1231.1 535.6) rotate(-30)" text-anchor="end" font-size="12.7" fill="#444662">17 feb 2022</text></g>
<text x="810.99" y="312.0" font-size="24.8" font-weight="bold" fill="#24264f" textLength="87.03" lengthAdjust="spacingAndGlyphs" stroke="#24264f" stroke-width="0.4">Avance</text><text x="905.00" y="312.0" font-size="24.8" font-weight="bold" fill="#24264f" textLength="87.51" lengthAdjust="spacingAndGlyphs" stroke="#24264f" stroke-width="0.4">testeos</text>
<rect x="758.6" y="577" width="30.2" height="14.8" fill="#c9198a"/><text x="795.00" y="589.4" font-size="14.8" fill="#34365a" textLength="181.00" lengthAdjust="spacingAndGlyphs">Análisis realizados en el día</text><rect x="1002.5" y="583.1" width="29" height="1.9" fill="#24264f"/><text x="1036.99" y="589.4" font-size="14.8" fill="#34365a" textLength="161.50" lengthAdjust="spacingAndGlyphs">Promedio últimos 7 días</text></g>
<g id="pies"><text x="88.69" y="641.4" font-size="24.2" font-weight="bold" fill="#26284f" textLength="222.93" lengthAdjust="spacingAndGlyphs" stroke="#26284f" stroke-width="0.35">Casos confirmados</text>
<text x="88.69" y="666.5" font-size="24.2" font-weight="bold" fill="#26284f" textLength="225.51" lengthAdjust="spacingAndGlyphs" stroke="#26284f" stroke-width="0.35">según grupo etario</text>
<text x="474.49" y="643.4" font-size="24.2" font-weight="bold" fill="#26284f" textLength="299.52" lengthAdjust="spacingAndGlyphs" stroke="#26284f" stroke-width="0.35">Casos confirmados según</text>
<text x="474.50" y="668.4" font-size="24.2" font-weight="bold" fill="#26284f" textLength="327.70" lengthAdjust="spacingAndGlyphs" stroke="#26284f" stroke-width="0.35">clasificación epidemiológica</text>
<text x="917.78" y="643.1" font-size="24.2" font-weight="bold" fill="#26284f" textLength="222.56" lengthAdjust="spacingAndGlyphs" stroke="#26284f" stroke-width="0.35">Casos confirmados</text>
<text x="916.78" y="668.3" font-size="24.2" font-weight="bold" fill="#26284f" textLength="131.87" lengthAdjust="spacingAndGlyphs" stroke="#26284f" stroke-width="0.35">según sexo</text>
<path d="M138.4 792.5L246.08 750.73A115.5 115.5 0 0 1 212.64 880.98Z" fill="#24264f"/>
<path d="M138.4 792.5L72.48 697.66A115.5 115.5 0 0 1 139.00 677.00Z" fill="#7b2c8c"/>
<path d="M138.4 792.5L22.90 792.50A115.5 115.5 0 0 1 70.67 698.94Z" fill="#54256f"/>
<path d="M138.4 792.5L70.35 699.18A115.5 115.5 0 0 1 72.81 697.43Z" fill="#e47a62"/>
<path d="M138.4 792.5L138.40 677.00A115.5 115.5 0 0 1 246.30 751.30Z" fill="#b5208f"/>
<text x="111.3" y="704.8" font-size="9.4" text-anchor="middle" fill="#fff" opacity="0.92">9,7%</text>
<text x="189.0" y="719.6" font-size="9.4" text-anchor="middle" fill="#fff" opacity="0.92">19,2%</text>
<circle cx="298" cy="683.7" r="7.6" fill="#c41f8e"/>
<text x="311.98" y="688.4" font-size="14" fill="#34365a" textLength="48.02" lengthAdjust="spacingAndGlyphs">40 a 49</text>
<circle cx="298" cy="707.9" r="7.6" fill="#26284f"/>
<text x="312.6" y="712.8" font-size="14" fill="#2f3155" textLength="47.2" lengthAdjust="spacingAndGlyphs">10 a 19</text>
<path d="M626.5 789.5L529.07 845.75A112.5 112.5 0 0 1 615.52 677.54Z" fill="#d2178c"/>
<path d="M626.5 789.5L694.83 700.13A112.5 112.5 0 0 1 723.93 845.75Z" fill="#24264f"/>
<path d="M626.5 789.5L626.50 677.00A112.5 112.5 0 0 1 695.14 700.37Z" fill="#a0248f"/>
<path d="M626.5 789.5L615.13 677.58A112.5 112.5 0 0 1 626.99 677.00Z" fill="#6a2f8f"/>
<text x="657.0" y="704.8" font-size="9.4" text-anchor="middle" fill="#fff" opacity="0.92">10,4%</text>
<path d="M1043.0 790.0L946.18 845.90A111.8 111.8 0 0 1 1043.39 678.20Z" fill="#d2178c"/>
<path d="M1043.0 790.0L1043.00 678.20A111.8 111.8 0 0 1 1139.82 845.90Z" fill="#24264f"/></g>
<g id="scrollbar"><rect x="1273" y="0" width="7" height="720" fill="#ededed"/>
<path d="M1273 4 Q1273 0 1277 0 L1280 0 L1280 565.5 L1277 565.5 Q1273 565.5 1273 561.5 Z" fill="#aaaaaa"/></g>
<g id="footer"><rect x="0" y="695" width="1280" height="25" fill="url(#gfoot)"/>
<text x="1079.6" y="711.2" font-size="10.8" fill="#fff" textLength="34.0" lengthAdjust="spacingAndGlyphs">Privacy</text>
<rect x="1121.7" y="701" width="1" height="13.6" fill="#fff" opacity="0.85"/>
<text x="1131.2" y="712.8" font-size="13.6" font-weight="bold" fill="#fff" textLength="115.6" lengthAdjust="spacingAndGlyphs">Google Data Studio</text>
<rect x="1254.9" y="701" width="1" height="13.6" fill="#fff" opacity="0.85"/>
<path d="M1262.6 706.2H1266.4V702.3 M1271 702.3V706.2H1274.8 M1262.6 710.400H1266.4V714.2 M1271 714.2V710.400H1274.8" fill="none" stroke="#fff" stroke-width="1.5"/></g>
</svg>
</body>
</html>
